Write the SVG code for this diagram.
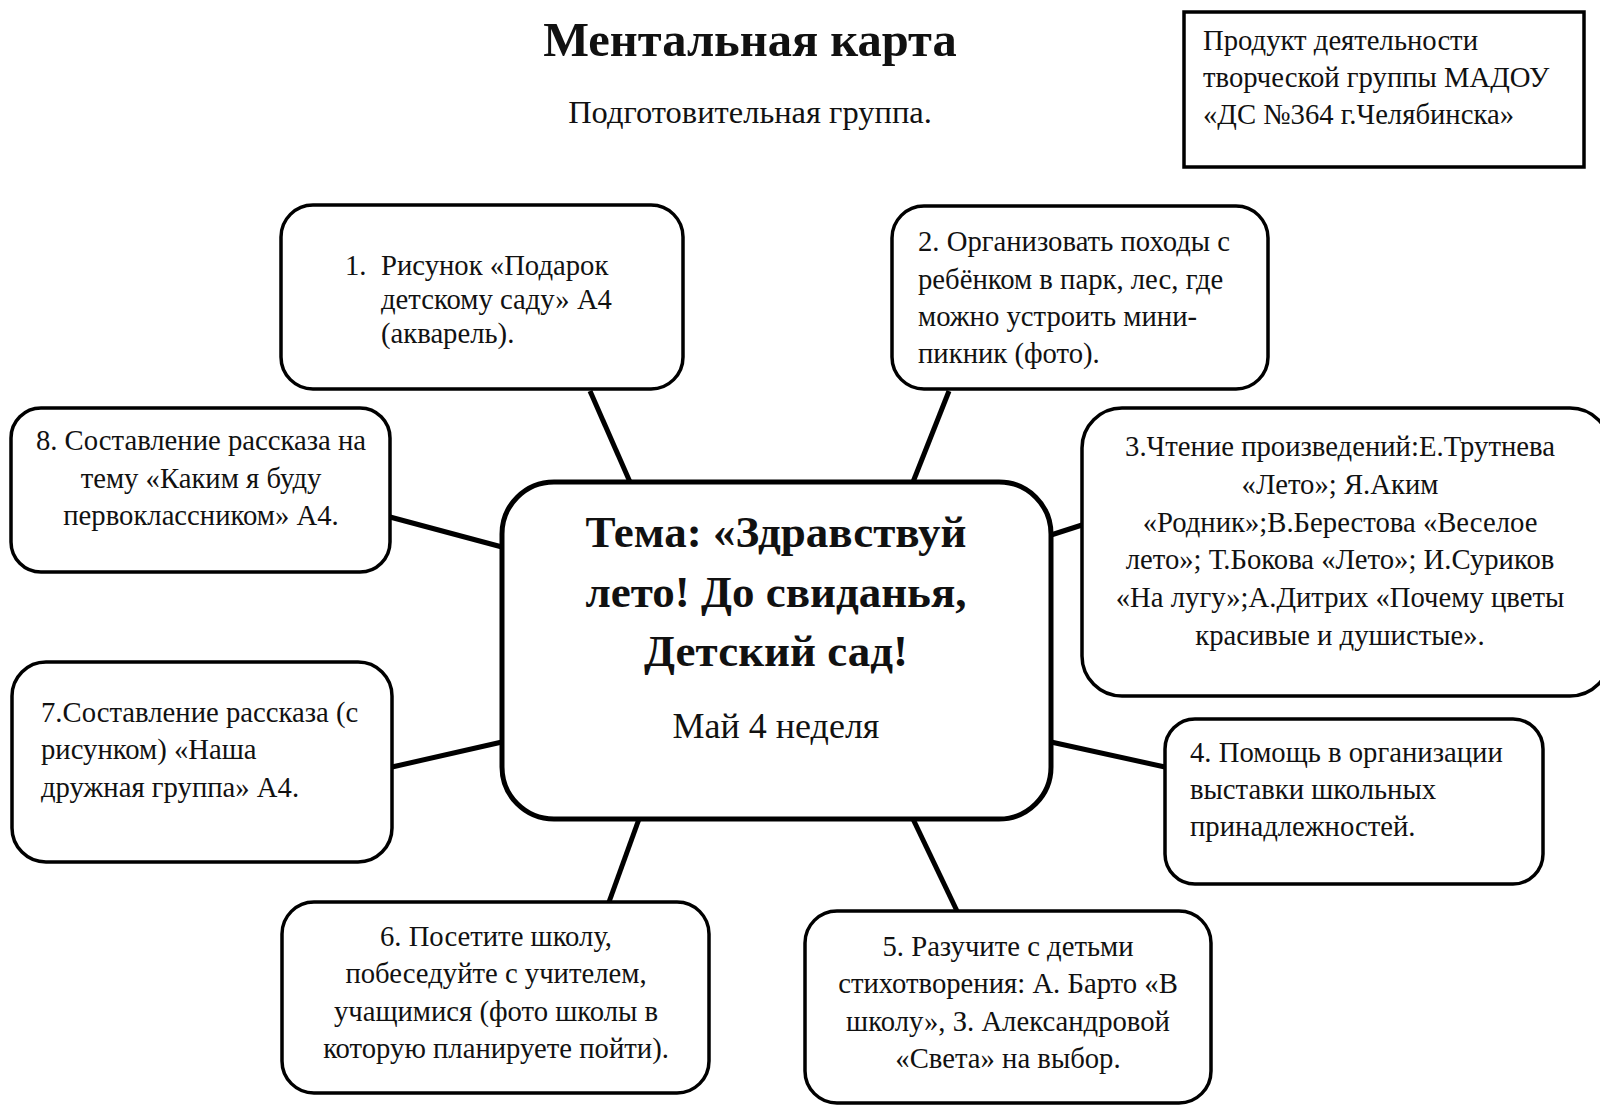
<svg xmlns="http://www.w3.org/2000/svg" width="1600" height="1116" viewBox="0 0 1600 1116">
<style>
.box{fill:#fff;stroke:#000;stroke-width:3.5}
.t{font-family:"Liberation Serif","Times New Roman",serif;font-size:28.7px;fill:#111}
.c{text-anchor:middle}
.conn line{stroke:#000;stroke-width:5;stroke-linecap:butt}
</style>
<rect width="1600" height="1116" fill="#fff"/>
<text x="750" y="56" class="t c" style="font-size:48.5px;font-weight:bold">Ментальная карта</text>
<text x="750" y="123" class="t c" style="font-size:32.5px">Подготовительная группа.</text>
<g id="credit">
<rect x="1184" y="12" width="400" height="155" fill="#fff" stroke="#000" stroke-width="3.5"/>
<text class="t" x="1203" y="50">Продукт деятельности</text>
<text class="t" x="1203" y="87">творческой группы МАДОУ</text>
<text class="t" x="1203" y="124">«ДС №364 г.Челябинска»</text>
</g>
<g id="connectors" class="conn">
<line x1="590" y1="391" x2="630" y2="482"/>
<line x1="949" y1="391" x2="913" y2="482"/>
<line x1="1051" y1="535" x2="1082" y2="525"/>
<line x1="1051" y1="742" x2="1165" y2="767"/>
<line x1="913" y1="819" x2="957" y2="911"/>
<line x1="639" y1="819" x2="609" y2="902"/>
<line x1="392" y1="767" x2="502" y2="742"/>
<line x1="390" y1="517" x2="502" y2="547"/>
</g>
<g id="center">
<rect x="502" y="482" width="549" height="337" rx="52" class="box" style="stroke-width:5"/>
<text x="776" y="547" class="t c" style="font-size:45px;font-weight:bold">Тема: «Здравствуй</text>
<text x="776" y="607" class="t c" style="font-size:45px;font-weight:bold">лето! До свиданья,</text>
<text x="776" y="666" class="t c" style="font-size:45px;font-weight:bold">Детский сад!</text>
<text x="776" y="738" class="t c" style="font-size:36px">Май 4 неделя</text>
</g>
<g id="n1">
<rect x="281" y="205" width="402" height="184" rx="32" class="box"/>
<text class="t" x="345" y="275">1.</text>
<text class="t" x="381" y="275">Рисунок «Подарок</text>
<text class="t" x="381" y="309">детскому саду» А4</text>
<text class="t" x="381" y="343">(акварель).</text>
</g>
<g id="n2">
<rect x="892" y="206" width="376" height="183" rx="32" class="box"/>
<text class="t" x="918" y="251">2. Организовать походы с</text>
<text class="t" x="918" y="289">ребёнком в парк, лес, где</text>
<text class="t" x="918" y="326">можно устроить мини-</text>
<text class="t" x="918" y="363">пикник (фото).</text>
</g>
<g id="n3">
<rect x="1082" y="408" width="528" height="288" rx="40" class="box"/>
<text class="t c" x="1340" y="456">3.Чтение произведений:Е.Трутнева</text>
<text class="t c" x="1340" y="494">«Лето»; Я.Аким</text>
<text class="t c" x="1340" y="532">«Родник»;В.Берестова «Веселое</text>
<text class="t c" x="1340" y="569">лето»; Т.Бокова «Лето»; И.Суриков</text>
<text class="t c" x="1340" y="607">«На лугу»;А.Дитрих «Почему цветы</text>
<text class="t c" x="1340" y="645">красивые и душистые».</text>
</g>
<g id="n4">
<rect x="1165" y="719" width="378" height="165" rx="30" class="box"/>
<text class="t" x="1190" y="762">4. Помощь в организации</text>
<text class="t" x="1190" y="799">выставки школьных</text>
<text class="t" x="1190" y="836">принадлежностей.</text>
</g>
<g id="n5">
<rect x="805" y="911" width="406" height="192" rx="32" class="box"/>
<text class="t c" x="1008" y="956">5. Разучите с детьми</text>
<text class="t c" x="1008" y="993">стихотворения: А. Барто «В</text>
<text class="t c" x="1008" y="1031">школу», З. Александровой</text>
<text class="t c" x="1008" y="1068">«Света» на выбор.</text>
</g>
<g id="n6">
<rect x="282" y="902" width="427" height="191" rx="32" class="box"/>
<text class="t c" x="496" y="946">6. Посетите школу,</text>
<text class="t c" x="496" y="983">побеседуйте с учителем,</text>
<text class="t c" x="496" y="1021">учащимися (фото школы в</text>
<text class="t c" x="496" y="1058">которую планируете пойти).</text>
</g>
<g id="n7">
<rect x="12" y="662" width="380" height="200" rx="34" class="box"/>
<text class="t" x="41" y="722">7.Составление рассказа (с</text>
<text class="t" x="41" y="759">рисунком) «Наша</text>
<text class="t" x="41" y="797">дружная группа» А4.</text>
</g>
<g id="n8">
<rect x="11" y="408" width="379" height="164" rx="30" class="box"/>
<text class="t c" x="201" y="450">8. Составление рассказа на</text>
<text class="t c" x="201" y="488">тему «Каким я буду</text>
<text class="t c" x="201" y="525">первоклассником» А4.</text>
</g>
</svg>
